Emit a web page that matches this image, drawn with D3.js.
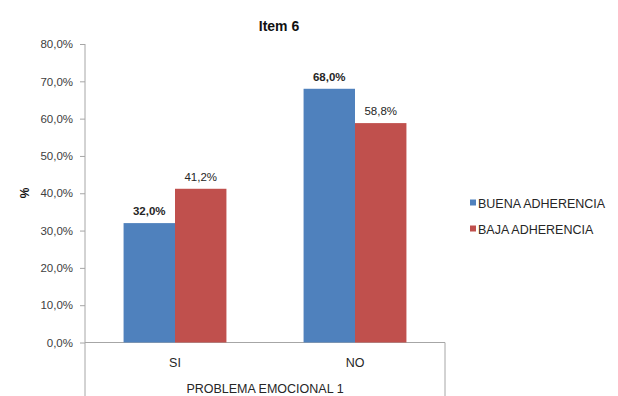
<!DOCTYPE html>
<html><head><meta charset="utf-8">
<script src="https://cdn.jsdelivr.net/npm/d3@7"></script>
<style>body{margin:0;background:#fff}svg{display:block}text{font-family:"Liberation Sans",Arial,sans-serif}</style>
</head><body>
<svg id="c" width="618" height="396"></svg>
<script>
const categories = ["SI", "NO"];
const seriesNames = ["BUENA ADHERENCIA", "BAJA ADHERENCIA"];
const buena = [32.0, 68.0];
const baja = [41.2, 58.8];
const yTicks = [0, 10, 20, 30, 40, 50, 60, 70, 80];
const colors = ["#4F81BD", "#C0504D"];

(function () {
const svg = d3.select("#c");
const mLeft = 85, mRight = 445, mTop = 44, mBottom = 342.5;
const y = d3.scaleLinear().domain([0, 80]).range([mBottom, mTop]);
const x = d3.scaleBand().domain(categories).range([mLeft, mRight]).paddingInner(0).paddingOuter(0);
const xs = d3.scaleBand().domain(seriesNames).range([0, x.bandwidth()]).paddingOuter(0.75).paddingInner(0);
const fmt = v => v.toFixed(1).replace(".", ",") + "%";

// y axis
const yAxis = d3.axisLeft(y).tickValues(yTicks).tickSize(5).tickPadding(7).tickFormat(fmt);
const ga = svg.append("g").attr("transform", `translate(${mLeft},0)`).call(yAxis);
ga.select(".domain").remove();
ga.selectAll(".tick line").attr("stroke", "#a6a6a6");
ga.selectAll(".tick text").attr("fill", "#404040").style("font-size", "11.5px");
svg.append("line").attr("x1", mLeft).attr("x2", mLeft).attr("y1", mTop).attr("y2", 396).attr("stroke", "#a6a6a6");
svg.append("line").attr("x1", mLeft).attr("x2", mRight).attr("y1", mBottom).attr("y2", mBottom).attr("stroke", "#a6a6a6");
svg.append("line").attr("x1", mRight).attr("x2", mRight).attr("y1", mBottom).attr("y2", 396).attr("stroke", "#a6a6a6");

// bars
const data = categories.map((c, i) => ({c, vals: [buena[i], baja[i]]}));
const g = svg.selectAll(".grp").data(data).join("g").attr("class", "grp").attr("transform", d => `translate(${x(d.c)},0)`);
g.selectAll("rect").data(d => d.vals.map((v, k) => ({v, k}))).join("rect")
  .attr("x", d => xs(seriesNames[d.k])).attr("width", xs.bandwidth())
  .attr("y", d => y(d.v)).attr("height", d => mBottom - y(d.v))
  .attr("fill", d => colors[d.k]);
g.selectAll("text.lbl").data(d => d.vals.map((v, k) => ({v, k}))).join("text").attr("class", "lbl")
  .attr("x", d => xs(seriesNames[d.k]) + xs.bandwidth() / 2).attr("y", d => y(d.v) - 8)
  .attr("text-anchor", "middle").style("font-size", "11.5px")
  .style("font-weight", d => d.k === 0 ? "bold" : "normal").attr("fill", "#262626")
  .text(d => fmt(d.v));

// category labels
svg.selectAll(".cat").data(categories).join("text").attr("class", "cat")
  .attr("x", d => x(d) + x.bandwidth() / 2).attr("y", 367).attr("text-anchor", "middle")
  .style("font-size", "12.5px").attr("fill", "#262626").text(d => d);

svg.append("text").attr("x", 265).attr("y", 393).attr("text-anchor", "middle")
  .style("font-size", "12.5px").attr("fill", "#262626").text("PROBLEMA EMOCIONAL 1");

svg.append("text").attr("x", 279).attr("y", 31).attr("text-anchor", "middle")
  .style("font-size", "14px").style("font-weight", "bold").attr("fill", "#111").text("Item 6");

svg.append("text").attr("transform", "translate(29,193) rotate(-90)").attr("text-anchor", "middle")
  .style("font-size", "12px").style("font-weight", "bold").attr("fill", "#111").text("%");

// legend
const lg = svg.selectAll(".lg").data(seriesNames).join("g").attr("class", "lg")
  .attr("transform", (d, i) => `translate(470,${203 + i * 26})`);
lg.append("rect").attr("x", 0).attr("y", -3.5).attr("width", 6).attr("height", 6).attr("fill", (d, i) => colors[i]);
lg.append("text").attr("x", 8).attr("y", 4.5).style("font-size", "12.5px").attr("fill", "#262626").text(d => d);
})();
</script>
</body></html>
